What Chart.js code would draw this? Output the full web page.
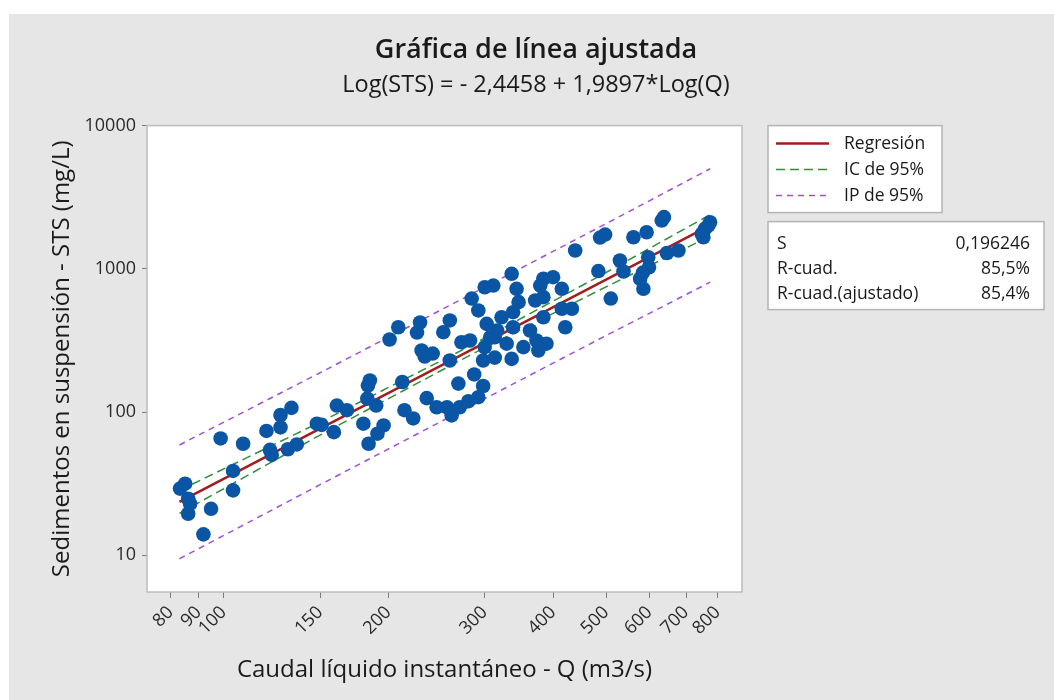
<!DOCTYPE html>
<html>
<head>
<meta charset="utf-8">
<script src="https://cdn.jsdelivr.net/npm/chart.js@4.4.1/dist/chart.umd.min.js"></script>
<style>
  html, body { margin: 0; padding: 0; background: #ffffff; }
</style>
</head>
<body>
<canvas id="fit-chart" width="1054" height="700"></canvas>
<script>
var caudal = [
    83.2, 85.0, 86.1, 86.8, 86.1, 91.8, 94.8, 98.7, 104, 104,
    108.5, 119.7, 121.5, 122.4, 127, 127, 133, 131, 136, 148,
    151, 159, 161, 168, 180, 184, 191, 196, 183, 190,
    185, 183.5, 201, 208.5, 212, 214, 222, 228.5, 225.6, 230,
    233, 241, 235, 245, 256, 261, 268.5, 270, 280, 292,
    298, 287, 259, 252, 259, 272, 282, 284, 292, 300,
    311, 302.5, 307, 300, 298, 313, 313, 336, 353, 376,
    389, 329, 316, 322, 338, 338, 363, 373, 346, 371,
    384, 384, 415, 433, 421, 379, 343, 415, 384, 400,
    336, 439, 484, 487.5, 498, 510, 530, 538, 561, 593,
    632, 638, 597, 599, 584, 577, 585, 646, 678, 748,
    753, 758, 769, 774.5
];
var sedimentos = [
    29.2, 31.6, 24.8, 22.9, 19.5, 14.0, 21.1, 65.4, 38.8, 28.4,
    60.1, 73.8, 54.4, 50.2, 95.4, 78.1, 107, 55.0, 59.4, 82.9,
    81.3, 72.4, 111, 103, 82.9, 60.1, 70.6, 80.6, 124, 111,
    166, 153, 321, 391, 162, 103, 90.2, 422, 359, 269,
    244, 256, 125, 108, 108, 94.7, 158, 108, 119, 127,
    152, 183, 229, 361, 436, 307, 316, 620, 512, 744,
    764, 413, 333, 284, 229, 333, 240, 235, 284, 269,
    300, 300, 371, 459, 498, 391, 371, 316, 585, 601,
    634, 459, 526, 526, 391, 764, 725, 725, 852, 874,
    923, 1342, 965, 1653, 1735, 620, 1143, 958, 1661, 1800,
    2173, 2298, 1205, 1026, 942, 852, 725, 1289, 1342, 1754,
    1661, 1901, 2005, 2114
];

// Fitted line and bands, read at a few Q values
var bandQ = [83, 150, 280, 500, 775];
var ajuste = [23.6, 76.6, 265, 840, 2009];
var icSup = [28.4, 84.9, 285, 943, 2388];
var icInf = [19.6, 69.1, 246, 749, 1690];
var ipSup = [58.9, 188, 649, 2067, 5000];
var ipInf = [9.46, 31.1, 108, 342, 807];

var xTicks = [80, 90, 100, 150, 200, 300, 400, 500, 600, 700, 800];
var yTicks = [10, 100, 1000, 10000];

var legendLabels = ["Regresión", "IC de 95%", "IP de 95%"];
var statLabels = ["S", "R-cuad.", "R-cuad.(ajustado)"];
var statValues = ["0,196246", "85,5%", "85,4%"];

var FONT = "'Open Sans', 'Noto Sans', sans-serif";
var INK = "#1a1a1a";

function pairs(xs, ys) {
    return xs.map(function (x, i) { return { x: x, y: ys[i] }; });
}

// background panel, plot frame, legend box and stats box
var panelPlugin = {
    id: "panel",
    beforeDraw: function (chart) {
        var c = chart.ctx, a = chart.chartArea;
        c.save();
        c.fillStyle = "#ffffff";
        c.fillRect(0, 0, chart.width, chart.height);
        c.fillStyle = "#e6e6e6";
        c.fillRect(9, 14, chart.width - 9, chart.height - 14);
        c.fillStyle = "#ffffff";
        c.fillRect(a.left, a.top, a.right - a.left, a.bottom - a.top);
        c.restore();
    },
    afterDraw: function (chart) {
        var c = chart.ctx, a = chart.chartArea;
        c.save();
        c.strokeStyle = "#bcbcbc";
        c.lineWidth = 1.5;
        c.strokeRect(a.left, a.top, a.right - a.left, a.bottom - a.top);

        // legend
        var lx = a.right + 26, ly = a.top;
        c.fillStyle = "#ffffff";
        c.fillRect(lx, ly, 174, 87);
        c.strokeStyle = "#b4b4b4";
        c.lineWidth = 1.5;
        c.strokeRect(lx, ly, 174, 87);
        var items = chart.data.datasets.filter(function (d) {
            return legendLabels.indexOf(d.label) >= 0;
        });
        c.font = "17.5px " + FONT;
        c.textBaseline = "middle";
        items.forEach(function (d, i) {
            var y = ly + 18 + i * 26;
            c.setLineDash(d.borderDash || []);
            c.strokeStyle = d.borderColor;
            c.lineWidth = d.borderWidth;
            c.beginPath();
            c.moveTo(lx + 8, y);
            c.lineTo(lx + 61, y);
            c.stroke();
            c.setLineDash([]);
            c.fillStyle = INK;
            c.textAlign = "left";
            c.fillText(d.label, lx + 76, y);
        });

        // stats box
        var sx = a.right + 26, sy = a.top + 96;
        c.fillStyle = "#ffffff";
        c.fillRect(sx, sy, 276, 88);
        c.strokeStyle = "#b4b4b4";
        c.strokeRect(sx, sy, 276, 88);
        c.fillStyle = INK;
        statLabels.forEach(function (t, i) {
            var y = sy + 22 + i * 25;
            c.textAlign = "left";
            c.fillText(t, sx + 9, y);
            c.textAlign = "right";
            c.fillText(statValues[i], sx + 262, y);
        });
        c.restore();
    }
};

var ctx = document.getElementById("fit-chart").getContext("2d");
var myChart = new Chart(ctx, {
    type: "scatter",
    data: {
        datasets: [{
            label: "Datos",
            data: pairs(caudal, sedimentos),
            backgroundColor: "#0a56a5",
            borderColor: "#0a56a5",
            pointRadius: 7.3,
            pointBorderWidth: 0,
            order: 0
        }, {
            label: "Regresión",
            data: pairs(bandQ, ajuste),
            showLine: true,
            borderColor: "#a51c1c",
            borderWidth: 2.5,
            pointRadius: 0,
            order: 1
        }, {
            label: "IC de 95%",
            data: pairs(bandQ, icSup),
            showLine: true,
            borderColor: "#2f8f3a",
            borderWidth: 1.5,
            borderDash: [9, 5],
            pointRadius: 0,
            order: 2
        }, {
            label: "IC inferior",
            data: pairs(bandQ, icInf),
            showLine: true,
            borderColor: "#2f8f3a",
            borderWidth: 1.5,
            borderDash: [9, 5],
            pointRadius: 0,
            order: 2
        }, {
            label: "IP de 95%",
            data: pairs(bandQ, ipSup),
            showLine: true,
            borderColor: "#a24fd8",
            borderWidth: 1.5,
            borderDash: [6, 5],
            pointRadius: 0,
            order: 3
        }, {
            label: "IP inferior",
            data: pairs(bandQ, ipInf),
            showLine: true,
            borderColor: "#a24fd8",
            borderWidth: 1.5,
            borderDash: [6, 5],
            pointRadius: 0,
            order: 3
        }]
    },
    options: {
        responsive: false,
        animation: false,
        layout: { padding: { left: 18, right: 0, top: 0, bottom: 0 } },
        plugins: {
            legend: { display: false },
            tooltip: { enabled: false },
            title: {
                display: true,
                text: "Gráfica de línea ajustada",
                color: INK,
                font: { family: FONT, size: 27, weight: "600" },
                padding: { top: 34, bottom: 0 }
            },
            subtitle: {
                display: true,
                text: "Log(STS) = - 2,4458 + 1,9897*Log(Q)",
                color: INK,
                font: { family: FONT, size: 23.5 },
                padding: { top: 5, bottom: 26 }
            }
        },
        scales: {
            x: {
                type: "logarithmic",
                min: 72.4,
                max: 886,
                afterBuildTicks: function (s) { s.ticks = xTicks.map(function (v) { return { value: v }; }); },
                afterFit: function (s) { s.height = 108; },
                ticks: {
                    autoSkip: false,
                    minRotation: 45,
                    maxRotation: 45,
                    padding: 4,
                    color: "#2a2a2a",
                    font: { family: FONT, size: 18 },
                    callback: function (v) { return String(v); }
                },
                grid: { drawOnChartArea: false, drawTicks: true, tickLength: 6, color: "#7a7a7a" },
                border: { display: false },
                title: {
                    display: true,
                    text: "Caudal líquido instantáneo - Q (m3/s)",
                    color: INK,
                    font: { family: FONT, size: 24 },
                    padding: { top: 0, bottom: 15 }
                }
            },
            y: {
                type: "logarithmic",
                min: 5.54,
                max: 10000,
                afterBuildTicks: function (s) { s.ticks = yTicks.map(function (v) { return { value: v }; }); },
                afterFit: function (s) { s.width = 129; },
                ticks: {
                    padding: 6,
                    color: "#2a2a2a",
                    font: { family: FONT, size: 18 },
                    callback: function (v) { return String(v); }
                },
                grid: { drawOnChartArea: false, drawTicks: true, tickLength: 5, color: "#7a7a7a" },
                border: { display: false },
                title: {
                    display: true,
                    text: "Sedimentos en suspensión - STS (mg/L)",
                    color: INK,
                    font: { family: FONT, size: 24 },
                    padding: { top: 30, bottom: 0 }
                }
            },
            espacio: {
                type: "linear",
                position: "right",
                display: true,
                afterFit: function (s) { s.width = 312; },
                ticks: { display: false },
                grid: { display: false },
                border: { display: false }
            }
        }
    },
    plugins: [panelPlugin]
});
</script>
</body>
</html>
